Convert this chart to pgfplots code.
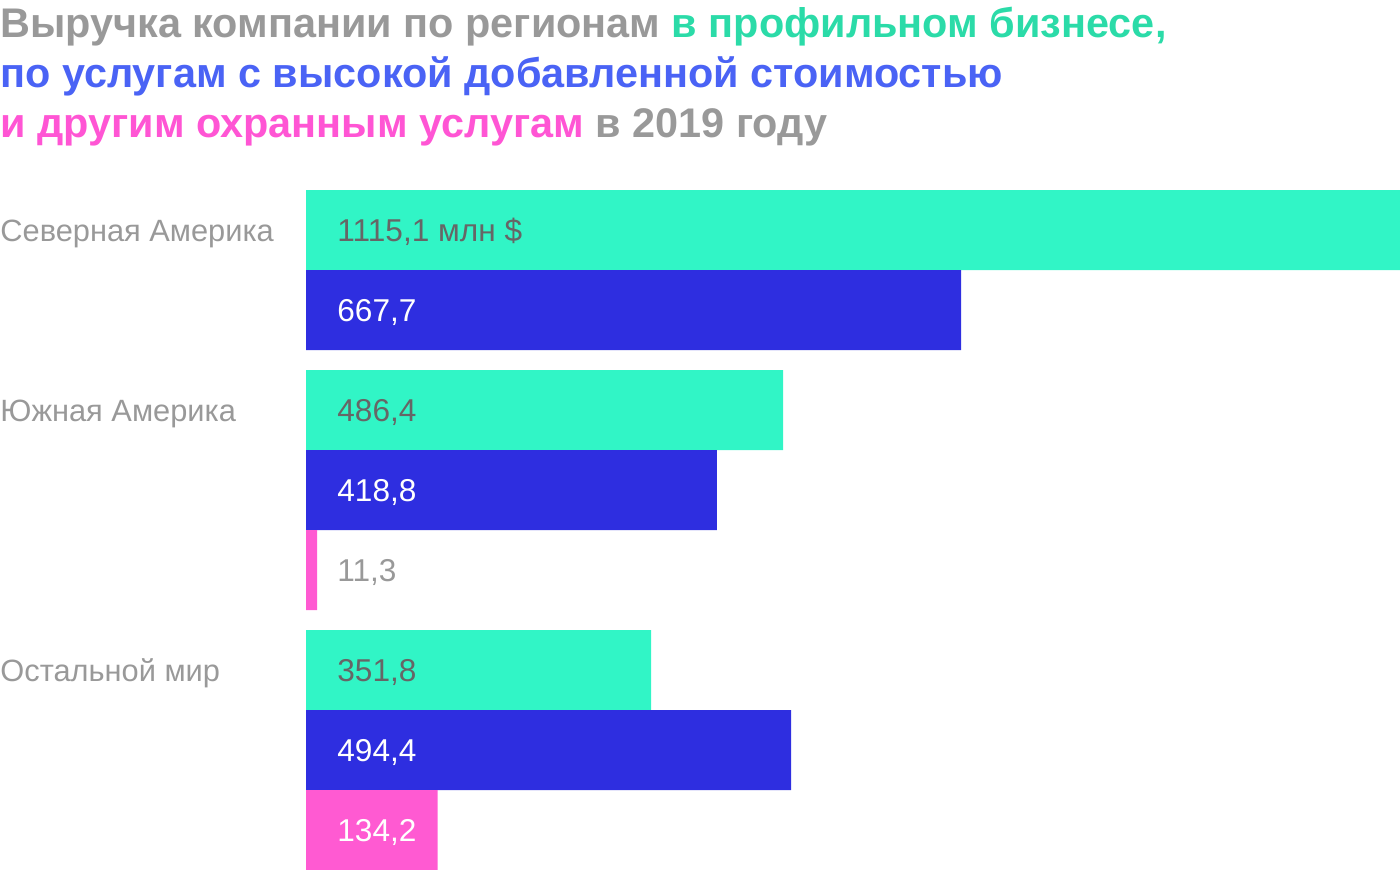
\documentclass[border=0pt]{standalone}
\usepackage{pgfplots}
\pgfplotsset{compat=1.18}
\usepackage{fontspec}
\setmainfont{Liberation Sans}
\definecolor{tgray}{HTML}{999999}
\definecolor{tgreen}{HTML}{2BDBA8}
\definecolor{tblue}{HTML}{4A63F5}
\definecolor{tpink}{HTML}{FF55D4}
\definecolor{bgreen}{HTML}{31F5C6}
\definecolor{bblue}{HTML}{2E2EE0}
\definecolor{bpink}{HTML}{FF5AD2}
\definecolor{vgray}{HTML}{666666}
\begin{document}
\begin{tikzpicture}
\path[use as bounding box] (0,0) rectangle (700pt,-435pt);
\begin{scope}[every node/.style={anchor=base west, inner sep=0pt, font=\fontsize{20.7}{25}\selectfont\bfseries}]
\node at (0,-19pt) {\textcolor{tgray}{Выручка компании по регионам} \textcolor{tgreen}{в профильном бизнесе,}};
\node at (0,-44pt) {\textcolor{tblue}{по услугам с высокой добавленной стоимостью}};
\node at (0,-69pt) {\textcolor{tpink}{и другим охранным услугам} \textcolor{tgray}{в 2019 году}};
\end{scope}
\begin{axis}[
  at={(153pt,-95pt)}, anchor=north west,
  scale only axis, width=547pt, height=340pt,
  xmin=0, xmax=1115.1, ymin=190, ymax=870, y dir=reverse,
  axis line style={draw=none}, tick style={draw=none},
  xtick=\empty, ytick={230,410,670},
  yticklabels={Северная Америка, Южная Америка, Остальной мир},
  yticklabel style={anchor=base west, inner sep=0pt, xshift=-153pt, yshift=-5.5pt,
    font=\fontsize{15.4}{18}\selectfont, text=tgray},
  clip=false,
]
\addplot[xbar, bar width=40pt, bar shift=0pt, fill=bgreen, draw=none] coordinates {(1115.1,230) (486.4,410) (351.8,670)};
\addplot[xbar, bar width=40pt, bar shift=0pt, fill=bblue, draw=none] coordinates {(667.7,310) (418.8,490) (494.4,750)};
\addplot[xbar, bar width=40pt, bar shift=0pt, fill=bpink, draw=none] coordinates {(11.3,570) (134.2,830)};
\pgfplotsset{vlab/.style={draw=none, mark=none, nodes near coords, point meta=explicit symbolic,
  nodes near coords style={anchor=base west, inner sep=0pt, xshift=15.5pt, yshift=-5.5pt,
  font=\fontsize{15.8}{18}\selectfont, text=#1}}}
\addplot[vlab=vgray] coordinates {(0,230) [1115,1 млн \$] (0,410) [486,4] (0,670) [351,8]};
\addplot[vlab=white] coordinates {(0,310) [667,7] (0,490) [418,8] (0,750) [494,4] (0,830) [134,2]};
\addplot[vlab=tgray] coordinates {(0,570) [11,3]};
\end{axis}
\end{tikzpicture}
\end{document}
